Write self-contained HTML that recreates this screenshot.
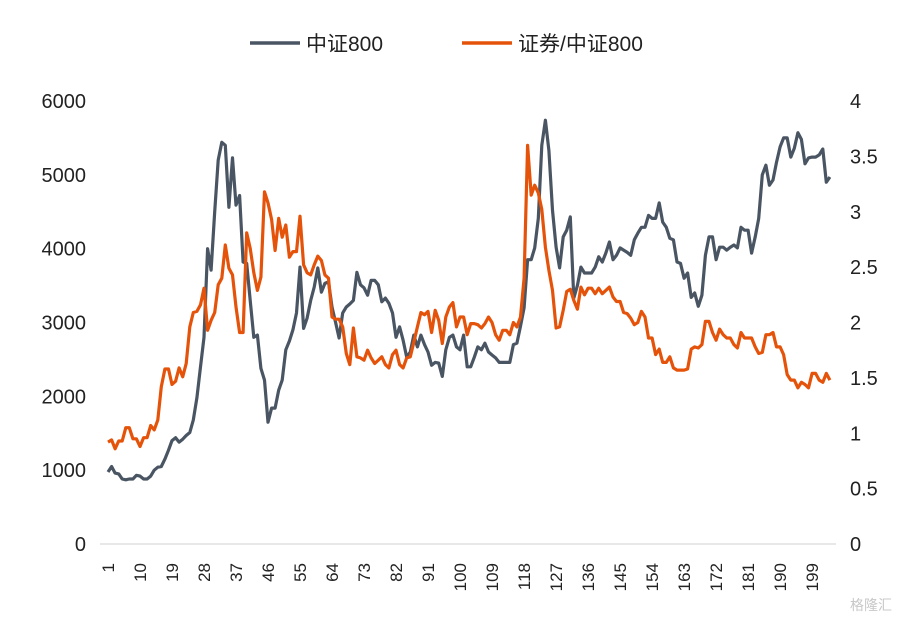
<!DOCTYPE html>
<html><head><meta charset="utf-8"><style>
html,body{margin:0;padding:0;background:#fff;}
svg{display:block;font-family:"Liberation Sans","Noto Sans CJK SC",sans-serif;}
</style></head><body>
<svg id="chart" width="906" height="620">
<g id="legend">
  <g>
    <line x1="250" y1="43" x2="300" y2="43" stroke="#4a5563" stroke-width="3.5"/>
    <text x="306" y="51" font-size="21" fill="#222">中证800</text>
  </g>
  <g>
    <line x1="462" y1="43" x2="512" y2="43" stroke="#e5530a" stroke-width="3.5"/>
    <text x="518" y="51" font-size="21" fill="#222">证券/中证800</text>
  </g>
</g>
<line x1="100" y1="544" x2="836" y2="544" stroke="#d0d0d0" stroke-width="1"/>
<g id="yl"></g>
<g id="yr"></g>
<g id="xt"></g>
<g id="series"></g>
<text x="850" y="610" font-size="14" fill="#c8c8c8">格隆汇</text>
</svg>
<script>
const leftTicks=[0,1000,2000,3000,4000,5000,6000];
const rightTicks=[0,0.5,1,1.5,2,2.5,3,3.5,4];
const csi800=[975,1050,960,950,880,870,880,880,930,920,880,880,920,1000,1040,1050,1150,1270,1400,1440,1380,1420,1470,1510,1680,1980,2400,2800,4000,3710,4500,5200,5440,5400,4560,5230,4590,4720,3820,3800,3300,2800,2830,2380,2220,1650,1840,1840,2085,2220,2630,2750,2900,3130,3750,2920,3060,3300,3480,3740,3410,3530,3550,3210,3000,2790,3130,3210,3250,3300,3680,3510,3470,3370,3570,3570,3510,3280,3330,3260,3130,2800,2940,2760,2530,2600,2830,2670,2830,2700,2600,2420,2460,2450,2270,2630,2800,2830,2670,2630,2830,2400,2400,2530,2670,2630,2720,2600,2560,2520,2460,2460,2460,2460,2700,2720,2950,3200,3850,3850,4010,4410,5400,5740,5330,4520,4020,3740,4160,4250,4430,3330,3500,3750,3670,3670,3670,3750,3890,3820,3940,4090,3850,3910,4010,3980,3950,3910,4120,4210,4290,4290,4450,4410,4410,4620,4360,4290,4140,4120,3820,3800,3600,3670,3340,3400,3220,3370,3910,4160,4160,3850,4020,4020,3980,4020,4050,4010,4290,4250,4250,3940,4160,4410,5000,5130,4860,4930,5170,5380,5500,5500,5240,5360,5570,5480,5150,5230,5240,5240,5270,5350,4900,4970];
const ratio=[0.92,0.94,0.86,0.93,0.93,1.05,1.05,0.95,0.95,0.88,0.96,0.96,1.07,1.03,1.12,1.42,1.58,1.58,1.44,1.47,1.59,1.51,1.63,1.96,2.09,2.1,2.16,2.31,1.93,2.02,2.09,2.34,2.4,2.7,2.49,2.43,2.14,1.91,1.91,2.81,2.67,2.45,2.29,2.41,3.18,3.08,2.93,2.65,2.94,2.77,2.88,2.59,2.64,2.64,2.96,2.52,2.45,2.43,2.52,2.6,2.56,2.43,2.4,2.05,2.03,2.03,1.96,1.72,1.62,1.95,1.69,1.68,1.66,1.75,1.68,1.63,1.66,1.69,1.62,1.59,1.71,1.75,1.62,1.59,1.68,1.69,1.82,1.96,2.09,2.07,2.1,1.91,2.11,2.02,1.81,2.05,2.14,2.18,1.96,2.05,2.05,1.89,1.99,1.99,1.98,1.95,1.99,2.05,2.0,1.89,1.84,1.93,1.93,1.89,2.0,1.96,2.05,2.4,3.6,3.15,3.24,3.17,3.02,2.68,2.47,2.29,1.95,1.96,2.11,2.28,2.3,2.2,2.12,2.32,2.25,2.31,2.31,2.26,2.31,2.26,2.29,2.32,2.23,2.19,2.19,2.09,2.08,2.04,1.98,2.0,2.1,2.05,1.86,1.86,1.71,1.76,1.64,1.64,1.69,1.59,1.57,1.57,1.57,1.58,1.76,1.78,1.77,1.8,2.01,2.01,1.91,1.84,1.94,1.89,1.86,1.86,1.8,1.77,1.91,1.86,1.86,1.86,1.78,1.72,1.73,1.89,1.89,1.91,1.78,1.78,1.71,1.53,1.48,1.48,1.41,1.46,1.44,1.41,1.54,1.54,1.48,1.46,1.54,1.48];
const xLabelStep=9;

const NS="http://www.w3.org/2000/svg";
const X0=108, DX=3.556, Y0=544, H=443;
const x=i=>X0+i*DX;
const yL=v=>Y0-v/6000*H;
const yR=v=>Y0-v/4*H;
function mk(tag,attrs,parent){const e=document.createElementNS(NS,tag);for(const k in attrs)e.setAttribute(k,attrs[k]);parent.appendChild(e);return e;}

const yl=document.getElementById('yl');
leftTicks.forEach(v=>{const t=mk('text',{x:86,y:yL(v)+7,'text-anchor':'end','font-size':20,fill:'#222'},yl);


t.textContent=v;});
const yr=document.getElementById('yr');
rightTicks.forEach(v=>{const t=mk('text',{x:850,y:yR(v)+7,'text-anchor':'start','font-size':20,fill:'#222'},yr);


t.textContent=v;});
const xt=document.getElementById('xt');
for(let i=0;i<csi800.length;i+=xLabelStep){
  const px=x(i)+6;
  const t=mk('text',{x:0,y:0,transform:`translate(${px},563) rotate(-90)`,'text-anchor':'end','font-size':17,fill:'#222'},xt);
  
  
  t.textContent=i+1;
}
const sg=document.getElementById('series');
const p1=mk('polyline',{points:csi800.map((v,i)=>x(i).toFixed(1)+','+yL(v).toFixed(1)).join(' '),fill:'none',stroke:'#4a5563','stroke-width':3.2,'stroke-linejoin':'round'},sg);


const p2=mk('polyline',{points:ratio.map((v,i)=>x(i).toFixed(1)+','+yR(v).toFixed(1)).join(' '),fill:'none',stroke:'#e5530a','stroke-width':3.2,'stroke-linejoin':'round'},sg);


</script>
</body></html>
